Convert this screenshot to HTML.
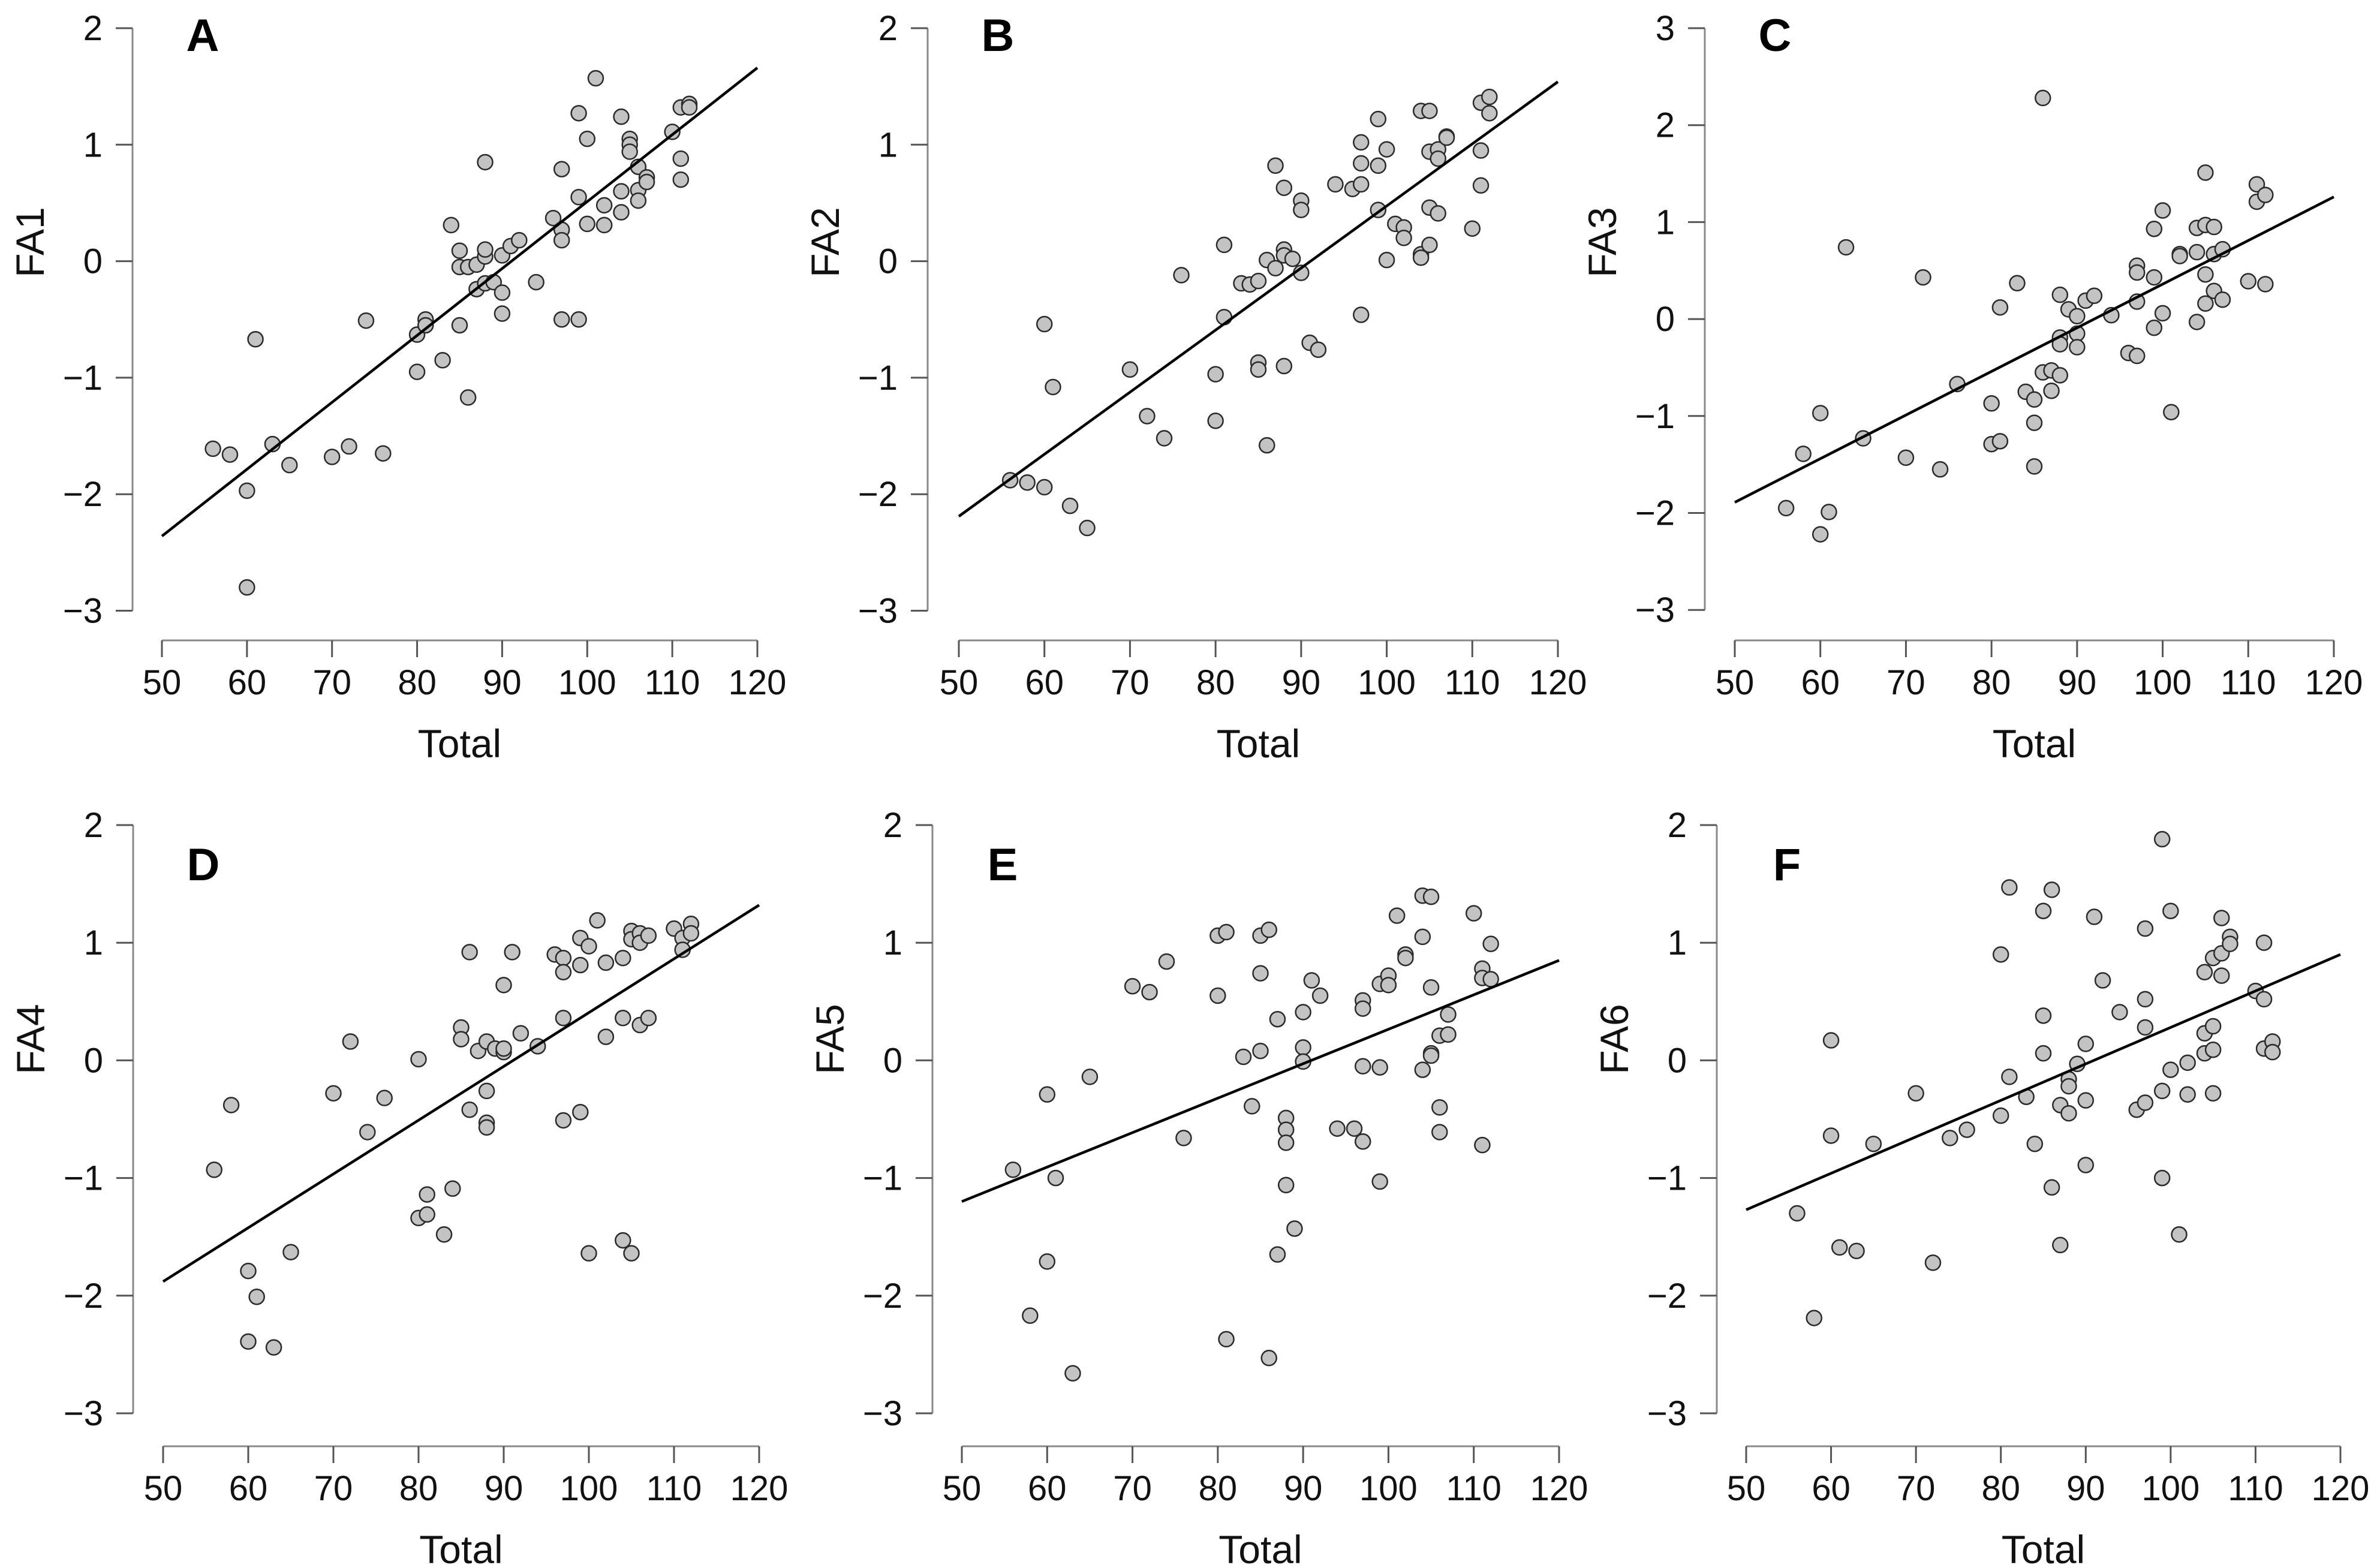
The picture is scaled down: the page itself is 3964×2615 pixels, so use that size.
<!DOCTYPE html>
<html><head><meta charset="utf-8">
<style>
html,body{margin:0;padding:0;background:#fff;}
svg{display:block;font-family:"Liberation Sans",Arial,sans-serif;}
</style></head>
<body>
<svg id="chart" width="3964" height="2615" viewBox="0 0 3964 2615" xmlns="http://www.w3.org/2000/svg"></svg>
<script>
// ---- data ----
const xTicks = [50,60,70,80,90,100,110,120];
const yTicksTwo = [2,1,0,-1,-2,-3];
const yTicksThree = [3,2,1,0,-1,-2,-3];
const panelLetters = ["A","B","C","D","E","F"];
const yLabels = ["FA1","FA2","FA3","FA4","FA5","FA6"];
const lineStartY = [-2.36,-2.19,-1.89,-1.88,-1.20,-1.27];
const lineEndY = [1.66,1.54,1.26,1.32,0.85,0.90];

const aTotal=[56,58,61,63,60,60,65,70,72,74,76,80,80,81,81,83,84,85,85,85,86,86,87,87,88,88,88,88,89,90,90,90,91,92,94,96,97,97,97,97,99,99,99,100,100,101,102,102,104,104,104,105,105,105,106,106,106,107,107,110,111,111,111,112,112];
const aScore=[-1.61,-1.66,-0.67,-1.57,-1.97,-2.8,-1.75,-1.68,-1.59,-0.51,-1.65,-0.63,-0.95,-0.5,-0.55,-0.85,0.31,0.09,-0.05,-0.55,-1.17,-0.05,-0.03,-0.24,0.04,0.1,0.85,-0.19,-0.18,0.05,-0.27,-0.45,0.13,0.18,-0.18,0.37,0.27,0.18,0.79,-0.5,1.27,0.55,-0.5,1.05,0.32,1.57,0.48,0.31,1.24,0.6,0.42,1.05,1.0,0.94,0.81,0.61,0.52,0.72,0.68,1.11,1.32,0.88,0.7,1.35,1.32];

const bTotal=[56,58,60,60,61,63,65,70,72,74,76,80,80,81,81,83,84,85,85,85,86,86,87,87,88,88,88,88,89,90,90,90,91,92,94,96,97,97,97,97,99,99,99,100,100,101,102,102,104,104,104,105,105,105,105,106,106,106,107,107,110,111,111,111,112,112];
const bScore=[-1.88,-1.9,-1.94,-0.54,-1.08,-2.1,-2.29,-0.93,-1.33,-1.52,-0.12,-0.97,-1.37,0.14,-0.48,-0.19,-0.2,-0.17,-0.87,-0.93,0.01,-1.58,0.82,-0.06,0.63,0.1,0.05,-0.9,0.02,0.52,0.44,-0.1,-0.7,-0.76,0.66,0.62,1.02,0.84,0.66,-0.46,1.22,0.82,0.44,0.96,0.01,0.32,0.29,0.2,1.29,0.06,0.03,1.29,0.94,0.46,0.14,0.96,0.88,0.41,1.07,1.06,0.28,1.36,0.95,0.65,1.41,1.27];

const cTotal=[56,58,60,60,61,63,65,70,72,74,76,80,80,81,81,83,84,85,85,85,86,86,87,87,88,88,88,88,89,90,90,90,91,92,94,96,97,97,97,97,99,99,99,100,100,101,102,102,104,104,104,105,105,105,105,106,106,106,107,107,110,111,111,112,112];
const cScore=[-1.95,-1.39,-0.97,-2.22,-1.99,0.74,-1.23,-1.43,0.43,-1.55,-0.67,-0.87,-1.29,0.12,-1.26,0.37,-0.75,-0.83,-1.07,-1.52,2.28,-0.55,-0.53,-0.74,0.25,-0.19,-0.26,-0.58,0.1,0.03,-0.15,-0.29,0.19,0.24,0.04,-0.35,0.55,0.48,0.18,-0.38,0.93,0.43,-0.09,1.12,0.06,-0.96,0.67,0.65,0.94,0.69,-0.03,1.51,0.97,0.46,0.16,0.95,0.67,0.29,0.72,0.2,0.39,1.39,1.21,1.28,0.36];

const dTotal=[56,58,60,60,61,63,65,70,72,74,76,80,80,81,81,83,84,85,85,86,86,87,88,88,88,88,89,90,90,90,91,92,94,96,97,97,97,97,99,99,99,100,100,101,102,102,104,104,104,105,105,105,106,106,106,107,107,110,111,111,112,112];
const dScore=[-0.93,-0.38,-1.79,-2.39,-2.01,-2.44,-1.63,-0.28,0.16,-0.61,-0.32,0.01,-1.34,-1.14,-1.31,-1.48,-1.09,0.28,0.18,0.92,-0.42,0.08,0.16,-0.26,-0.53,-0.57,0.1,0.64,0.07,0.1,0.92,0.23,0.12,0.9,0.87,0.75,0.36,-0.51,1.04,0.81,-0.44,0.97,-1.64,1.19,0.83,0.2,0.87,0.36,-1.53,1.1,1.03,-1.64,1.08,1.0,0.3,1.06,0.36,1.12,1.04,0.94,1.16,1.08];

const eTotal=[56,58,60,60,61,63,65,70,72,74,76,80,80,81,81,83,84,85,85,85,86,86,87,87,88,88,88,88,89,90,90,90,91,92,94,96,97,97,97,97,99,99,99,100,100,101,102,102,104,104,104,105,105,105,105,106,106,106,107,107,110,111,111,111,112,112];
const eScore=[-0.93,-2.17,-0.29,-1.71,-1.0,-2.66,-0.14,0.63,0.58,0.84,-0.66,1.06,0.55,1.09,-2.37,0.03,-0.39,1.06,0.74,0.08,1.11,-2.53,0.35,-1.65,-0.49,-0.59,-0.7,-1.06,-1.43,0.41,0.11,-0.01,0.68,0.55,-0.58,-0.58,0.51,0.44,-0.05,-0.69,0.65,-0.06,-1.03,0.72,0.64,1.23,0.9,0.87,1.4,1.05,-0.08,1.39,0.62,0.06,0.04,0.21,-0.4,-0.61,0.39,0.22,1.25,0.78,0.7,-0.72,0.99,0.69];

const fTotal=[56,58,60,60,61,63,65,70,72,74,76,80,80,81,81,83,84,85,85,85,86,86,87,87,88,88,88,89,90,90,90,91,92,94,96,97,97,97,97,99,99,99,100,100,101,102,102,104,104,104,105,105,105,105,106,106,106,107,107,110,111,111,111,112,112];
const fScore=[-1.3,-2.19,0.17,-0.64,-1.59,-1.62,-0.71,-0.28,-1.72,-0.66,-0.59,0.9,-0.47,1.47,-0.14,-0.31,-0.71,1.27,0.38,0.06,1.45,-1.08,-0.38,-1.57,-0.16,-0.22,-0.45,-0.03,0.14,-0.34,-0.89,1.22,0.68,0.41,-0.42,1.12,0.52,0.28,-0.36,1.88,-0.26,-1.0,1.27,-0.08,-1.48,-0.02,-0.29,0.75,0.23,0.06,0.87,0.29,0.09,-0.28,1.21,0.91,0.72,1.05,0.99,0.59,1.0,0.52,0.1,0.16,0.07];

const totals=[aTotal,bTotal,cTotal,dTotal,eTotal,fTotal];
const scores=[aScore,bScore,cScore,dScore,eScore,fScore];

// ---- layout ----
const layout=[
 {x0:270,x1:1263,ax:221,yTop:47,unit:194.3,top:2,xAxisY:1068,letterY:85},
 {x0:1599,x1:2598,ax:1547,yTop:47,unit:194.3,top:2,xAxisY:1068,letterY:85},
 {x0:2893,x1:3892,ax:2843,yTop:47,unit:161.7,top:3,xAxisY:1068,letterY:85},
 {x0:272,x1:1266,ax:222,yTop:1376,unit:196.2,top:2,xAxisY:2412,letterY:1468},
 {x0:1604,x1:2600,ax:1555,yTop:1376,unit:196.2,top:2,xAxisY:2412,letterY:1468},
 {x0:2912,x1:3903,ax:2863,yTop:1376,unit:196.2,top:2,xAxisY:2412,letterY:1468}
];
const NS="http://www.w3.org/2000/svg";
const svg=document.getElementById('chart');
function mk(tag,attrs,parent){const e=document.createElementNS(NS,tag);for(const k in attrs)e.setAttribute(k,attrs[k]);(parent||svg).appendChild(e);return e;}

layout.forEach((L,i)=>{
  const g=mk('g',{});
  
  
  const xs=v=>L.x0+(v-50)/70*(L.x1-L.x0);
  const ys=v=>L.yTop+(L.top-v)*L.unit;
  const yt = L.top===3?yTicksThree:yTicksTwo;
  // y axis
  const ya=mk('line',{x1:L.ax,x2:L.ax,y1:ys(yt[0]),y2:ys(yt[yt.length-1]),stroke:'#8a8a8a','stroke-width':3},g);
  
  
  yt.forEach(t=>{
    const tk=mk('line',{x1:L.ax-28,x2:L.ax,y1:ys(t),y2:ys(t),stroke:'#555','stroke-width':3},g);
    
    
    const tx=mk('text',{x:L.ax-50,y:ys(t)+20,'text-anchor':'end','font-size':58,fill:'#111'},g);
    tx.textContent=t<0?('\u2212'+Math.abs(t)):String(t);
    
    
  });
  // x axis
  const xa=mk('line',{x1:xs(50),x2:xs(120),y1:L.xAxisY,y2:L.xAxisY,stroke:'#8a8a8a','stroke-width':3},g);
  
  
  xTicks.forEach(t=>{
    const tk=mk('line',{x1:xs(t),x2:xs(t),y1:L.xAxisY,y2:L.xAxisY+28,stroke:'#555','stroke-width':3},g);
    
    
    const tx=mk('text',{x:xs(t),y:L.xAxisY+90,'text-anchor':'middle','font-size':58,fill:'#111'},g);
    tx.textContent=String(t);
    
    
  });
  const xl=mk('text',{x:(xs(50)+xs(120))/2,y:L.xAxisY+195,'text-anchor':'middle','font-size':66,fill:'#111'},g);
  xl.textContent='Total';
  
  
  const ylY = L.yTop+357;
  const yl=mk('text',{x:L.ax-148,y:ylY,'text-anchor':'middle','font-size':66,fill:'#111',transform:'rotate(-90 '+(L.ax-148)+' '+ylY+')'},g);
  yl.textContent=yLabels[i];
  
  
  const lt=mk('text',{x:L.ax+117,y:L.letterY,'text-anchor':'middle','font-size':76,'font-weight':'bold',fill:'#000'},g);
  lt.textContent=panelLetters[i];
  
  
  // points
  totals[i].forEach((tv,j)=>{
    const c=mk('circle',{cx:xs(tv),cy:ys(scores[i][j]),r:12.5,fill:'#c3c3c3',stroke:'#2a2a2a','stroke-width':2.5},g);
    
    
  });
  // regression line
  const rl=mk('line',{x1:xs(50),y1:ys(lineStartY[i]),x2:xs(120),y2:ys(lineEndY[i]),stroke:'#000','stroke-width':4.5},g);
  
  
});
</script>
</body></html>
